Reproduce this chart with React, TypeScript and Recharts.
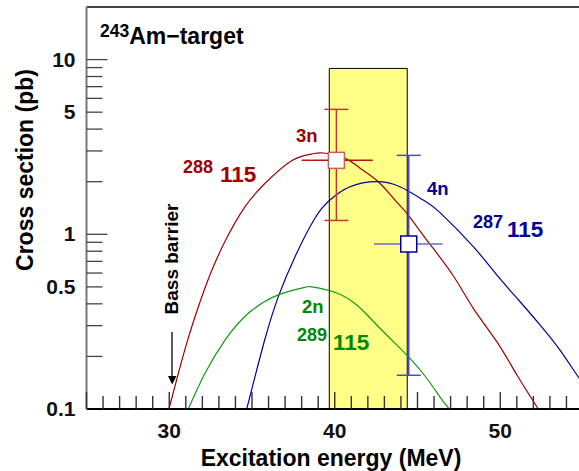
import {
  ComposedChart,
  Line,
  Scatter,
  ErrorBar,
  XAxis,
  YAxis,
  ReferenceArea,
  ReferenceLine,
} from "recharts";

const FONT = "'Liberation Sans', Arial, Helvetica, sans-serif";

// axis ticks (MeV / pb)
const xTicks = [25, 26, 27, 28, 29, 30, 31, 32, 33, 34, 35, 36, 37, 38, 39, 40, 41, 42, 43, 44, 45, 46, 47, 48, 49, 50, 51, 52, 53, 54, 55];
const xLabels = [30, 40, 50];
const yTicks = [0.1, 0.2, 0.3, 0.4, 0.5, 0.6, 0.7, 0.8, 0.9, 1, 2, 3, 4, 5, 6, 7, 8, 9, 10];
const yLabels = [0.1, 0.5, 1, 5, 10];

// 288-115 (3n channel)
const curve288 = [
  { e: 29.98, s: 0.1 }, { e: 30.55, s: 0.16 }, { e: 31.11, s: 0.248 }, { e: 31.76, s: 0.385 },
  { e: 32.5, s: 0.598 }, { e: 33.41, s: 0.927 }, { e: 34.58, s: 1.44 }, { e: 35.79, s: 1.96 },
  { e: 37.4, s: 2.64 }, { e: 38.6, s: 2.88 }, { e: 39.3, s: 2.92 }, { e: 40.62, s: 2.72 },
  { e: 41.53, s: 2.39 }, { e: 42.63, s: 2.0 }, { e: 43.64, s: 1.57 }, { e: 44.35, s: 1.32 },
  { e: 45.56, s: 0.927 }, { e: 47.13, s: 0.585 }, { e: 48.37, s: 0.377 }, { e: 49.79, s: 0.243 },
  { e: 51.0, s: 0.157 }, { e: 52.3, s: 0.1 },
];

// 287-115 (4n channel)
const curve287 = [
  { e: 34.68, s: 0.1 }, { e: 35.75, s: 0.245 }, { e: 36.59, s: 0.44 }, { e: 37.6, s: 0.745 },
  { e: 38.81, s: 1.24 }, { e: 39.71, s: 1.57 }, { e: 40.92, s: 1.87 }, { e: 42.53, s: 2.0 },
  { e: 43.94, s: 1.87 }, { e: 45.35, s: 1.57 }, { e: 46.36, s: 1.33 }, { e: 48.37, s: 0.85 },
  { e: 49.79, s: 0.585 }, { e: 51.2, s: 0.411 }, { e: 52.4, s: 0.303 }, { e: 53.6, s: 0.218 },
  { e: 54.71, s: 0.153 }, { e: 55.0, s: 0.145 },
];

// 289-115 (2n channel)
const curve289 = [
  { e: 31.15, s: 0.1 }, { e: 32.16, s: 0.16 }, { e: 33.37, s: 0.248 }, { e: 34.78, s: 0.353 },
  { e: 36.59, s: 0.45 }, { e: 38.2, s: 0.497 }, { e: 38.6, s: 0.5 }, { e: 39.91, s: 0.469 },
  { e: 41.33, s: 0.394 }, { e: 42.73, s: 0.29 }, { e: 44.35, s: 0.204 }, { e: 45.56, s: 0.15 },
  { e: 46.36, s: 0.117 }, { e: 46.92, s: 0.1 },
];

// measured points, errors as [low, high]
const point3n = [{ e: 40.1, s: 2.65, ex: [2.1, 2.2], ey: [1.45, 2.54] }];
const point4n = [{ e: 44.47, s: 0.88, ex: [2.1, 2.05], ey: [0.724, 1.95] }];

// excitation energy window (yellow band)
const bandE = [39.67, 44.38];
const bandTop = 8.9;

const RED = "#a00000";
const BLUE = "#000099";
const GREEN = "#119911";

function XTick(props: any) {
  const { x, y, payload } = props;
  const v = payload.value;
  const len = v % 5 === 0 ? 17 : 13;
  return (
    <g>
      <line x1={x} x2={x} y1={y} y2={y - len} stroke="#333" strokeWidth={1.4} />
      {xLabels.includes(v) && (
        <text x={x} y={y + 29} textAnchor="middle" fontSize={21} fontWeight="bold" fontFamily={FONT} fill="#111">
          {v}
        </text>
      )}
    </g>
  );
}

function YTick(props: any) {
  const { x, y, payload } = props;
  const v = payload.value;
  const decade = v === 1 || v === 10 || v === 0.1;
  return (
    <g>
      {v !== 0.1 && <line x1={x} x2={x + (decade ? 21 : 16)} y1={y} y2={y} stroke="#444" strokeWidth={1.3} />}
      {yLabels.includes(v) && (
        <text x={x - 11} y={y + 7} textAnchor="end" fontSize={21} fontWeight="bold" fontFamily={FONT} fill="#111">
          {v}
        </text>
      )}
    </g>
  );
}

const squareShape = (stroke: string) => (p: any) => (
  <rect x={p.cx - 8} y={p.cy - 8} width={16} height={16} fill="#fff" stroke={stroke} strokeWidth={1.5} />
);

export default function App() {
  return (
    <div style={{ position: "fixed", left: 0, top: 0, width: 579, height: 471, overflow: "hidden", background: "#fff" }}>
      <ComposedChart width={600} height={471} margin={{ top: 7, right: 17, bottom: 61, left: 85.5 }}>
        <XAxis
          dataKey="e"
          type="number"
          domain={[25, 55]}
          ticks={xTicks}
          interval={0}
          height={1}
          tickSize={0}
          tickMargin={0}
          tickLine={false}
          tick={<XTick />}
          axisLine={{ stroke: "#000", strokeWidth: 2 }}
          allowDataOverflow
        />
        <YAxis
          dataKey="s"
          type="number"
          scale="log"
          domain={[0.1, 20]}
          ticks={yTicks}
          interval={0}
          width={1}
          tickSize={0}
          tickMargin={0}
          tickLine={false}
          tick={<YTick />}
          axisLine={{ stroke: "#777", strokeWidth: 2 }}
          allowDataOverflow
        />
        <ReferenceArea
          x1={bandE[0]}
          x2={bandE[1]}
          y1={0.1}
          y2={bandTop}
          fill="#ffff88"
          fillOpacity={1}
          stroke="#000"
          strokeWidth={1}
        />
        <ReferenceLine y={20} stroke="#444" strokeWidth={2} />
        <Line data={curve288} dataKey="s" type="natural" stroke={RED} strokeWidth={1.2} dot={false} isAnimationActive={false} />
        <Line data={curve287} dataKey="s" type="natural" stroke={BLUE} strokeWidth={1.2} dot={false} isAnimationActive={false} />
        <Line data={curve289} dataKey="s" type="natural" stroke={GREEN} strokeWidth={1.2} dot={false} isAnimationActive={false} />
        <Scatter data={point3n} dataKey="s" shape={squareShape("#c86060")} isAnimationActive={false}>
          <ErrorBar dataKey="ey" direction="y" width={12} stroke="#b83a3a" strokeWidth={1.5} />
          <ErrorBar dataKey="ex" direction="x" width={0} stroke="#b01818" strokeWidth={1.5} />
        </Scatter>
        <Scatter data={point4n} dataKey="s" shape={squareShape(BLUE)} isAnimationActive={false}>
          <ErrorBar dataKey="ey" direction="y" width={12} stroke="#4a4ac4" strokeWidth={1.5} />
          <ErrorBar dataKey="ex" direction="x" width={0} stroke="#6a6ad0" strokeWidth={1.5} />
        </Scatter>
      </ComposedChart>
      <svg
        width={579}
        height={471}
        style={{ position: "absolute", left: 0, top: 0, pointerEvents: "none" }}
        fontFamily={FONT}
        fontWeight="bold"
      >
        <text x={100} y={44} fontSize={23} fill="#000">
          <tspan fontSize={17.5} dy={-7}>243</tspan>
          <tspan dy={7}>Am−target</tspan>
        </text>

        <text x={183} y={173} fontSize={18} fill={RED}>288</text>
        <text x={220} y={182} fontSize={22.5} fill={RED}>115</text>
        <text x={296} y={142} fontSize={18.5} fill={RED}>3n</text>

        <text x={427} y={195} fontSize={18.5} fill={BLUE}>4n</text>
        <text x={473} y={228} fontSize={18} fill={BLUE}>287</text>
        <text x={507} y={237} fontSize={22.5} fill={BLUE}>115</text>

        <text x={302} y={313} fontSize={18.5} fill="#008800">2n</text>
        <text x={297} y={341} fontSize={18} fill="#008800">289</text>
        <text x={333} y={350} fontSize={22.5} fill="#008800">115</text>

        <text x={178} y={259} fontSize={19} fill="#000" textAnchor="middle" transform="rotate(-90 178 259)">
          Bass barrier
        </text>
        <line x1={172} x2={172} y1={332} y2={377} stroke="#000" strokeWidth={1.3} />
        <polygon points="168,376 176.5,376 172.2,384.5" fill="#000" />

        <text x={331} y={466} fontSize={23} fill="#000" textAnchor="middle">
          Excitation energy (MeV)
        </text>
        <text x={33} y={170} fontSize={23} fill="#000" textAnchor="middle" transform="rotate(-90 33 170)">
          Cross section (pb)
        </text>
      </svg>
    </div>
  );
}
